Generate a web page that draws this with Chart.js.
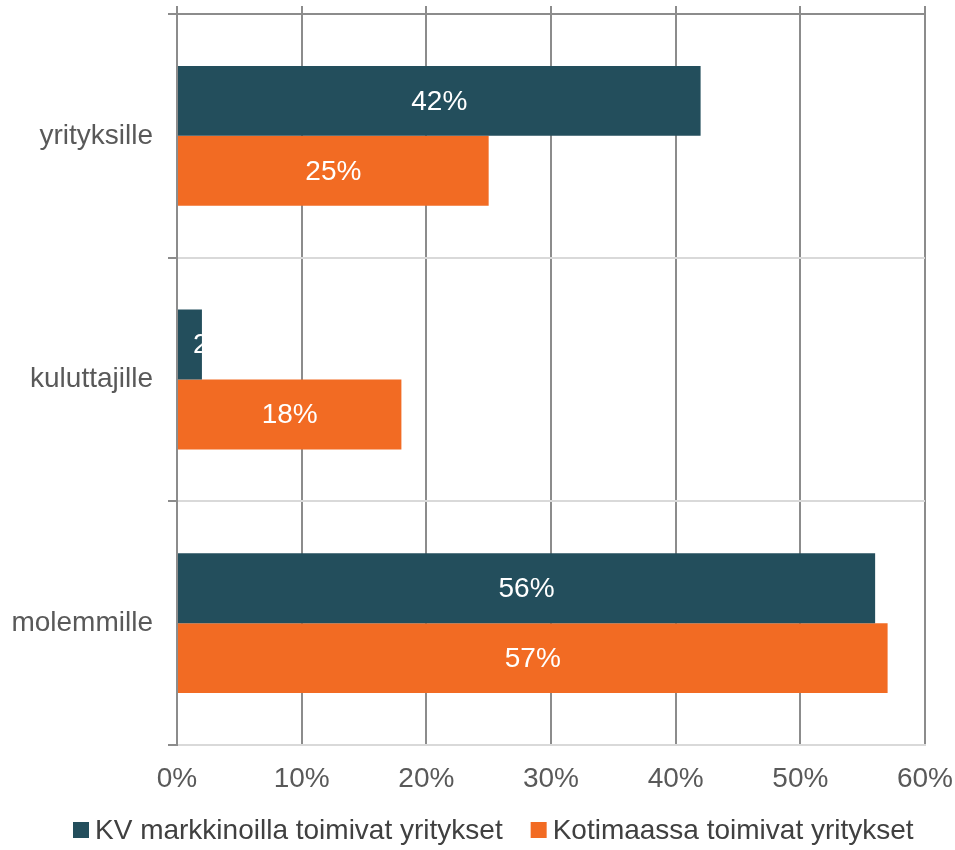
<!DOCTYPE html>
<html lang="fi">
<head>
    <meta charset="UTF-8">
    <title>Asiakkaat</title>
    <script src="https://cdn.jsdelivr.net/npm/chart.js"></script>
    <style>
        body {
            margin: 0;
            padding: 0;
            background: white;
        }
        canvas {
            display: block;
        }
    </style>
</head>
<body>
    <canvas id="chart" width="955" height="850"></canvas>

    <script>
        const categories = ["yrityksille", "kuluttajille", "molemmille"];
        const kvValues = [42, 2, 56];       // KV markkinoilla toimivat yritykset
        const kotimaaValues = [25, 18, 57]; // Kotimaassa toimivat yritykset
        const seriesNames = ["KV markkinoilla toimivat yritykset", "Kotimaassa toimivat yritykset"];
        const xTicks = [0, 10, 20, 30, 40, 50, 60];

        const FONT = "'Liberation Sans', Arial, sans-serif";
        const DARK_GRID = "#8c8c8c";
        const LIGHT_GRID = "#d9d9d9";

        // white value labels inside the bars; clipped to the bar if too narrow
        const barLabels = {
            id: "barLabels",
            afterDatasetsDraw(chart) {
                const ctx = chart.ctx;
                ctx.save();
                ctx.font = "28px " + FONT;
                ctx.fillStyle = "white";
                ctx.textBaseline = "middle";
                chart.data.datasets.forEach((ds, i) => {
                    chart.getDatasetMeta(i).data.forEach((bar, j) => {
                        const text = ds.data[j] + "%";
                        const w = ctx.measureText(text).width;
                        const left = Math.min(bar.base, bar.x);
                        const barW = Math.abs(bar.x - bar.base);
                        if (w + 6 < barW) {
                            ctx.textAlign = "center";
                            ctx.fillText(text, left + barW / 2, bar.y + 1);
                        } else {
                            ctx.save();
                            ctx.beginPath();
                            ctx.rect(left, bar.y - bar.height / 2, barW, bar.height);
                            ctx.clip();
                            ctx.textAlign = "left";
                            ctx.fillText(text, left + 15, bar.y + 1);
                            ctx.restore();
                        }
                    });
                });
                ctx.restore();
            }
        };

        // legend drawn like the original: small square, short gap, text
        const bottomLegend = {
            id: "bottomLegend",
            afterDraw(chart) {
                const ctx = chart.ctx;
                ctx.save();
                ctx.font = "28px " + FONT;
                ctx.textBaseline = "middle";
                ctx.textAlign = "left";
                let x = 73;
                const y = 830;
                chart.data.datasets.forEach((ds) => {
                    ctx.fillStyle = ds.backgroundColor;
                    ctx.fillRect(x, y - 8, 16, 16);
                    ctx.fillStyle = "#404040";
                    ctx.fillText(ds.label, x + 22, y + 1);
                    x += 22 + ctx.measureText(ds.label).width + 28;
                });
                ctx.restore();
            }
        };

        const ctx = document.getElementById("chart").getContext("2d");

        new Chart(ctx, {
            type: "bar",
            data: {
                labels: categories,
                datasets: [
                    {
                        label: seriesNames[0],
                        data: kvValues,
                        backgroundColor: "#234E5C",
                        categoryPercentage: 0.574,
                        barPercentage: 1
                    },
                    {
                        label: seriesNames[1],
                        data: kotimaaValues,
                        backgroundColor: "#F26B23",
                        categoryPercentage: 0.574,
                        barPercentage: 1
                    }
                ]
            },
            options: {
                indexAxis: "y",
                responsive: false,
                animation: false,
                layout: {
                    padding: { top: 6, right: 30, bottom: 40, left: 0 }
                },
                scales: {
                    x: {
                        position: "bottom",
                        min: 0,
                        max: 60,
                        afterBuildTicks: (axis) => { axis.ticks = xTicks.map(v => ({ value: v })); },
                        afterFit: (axis) => {
                            axis.height = 65;
                            axis.paddingLeft = 0;
                            axis.paddingRight = 0;
                        },
                        ticks: {
                            color: "#595959",
                            font: { family: FONT, size: 28 },
                            padding: 17,
                            callback: (v) => v + "%"
                        },
                        grid: {
                            color: DARK_GRID,
                            lineWidth: 2,
                            drawTicks: false
                        },
                        border: { color: LIGHT_GRID, width: 2 }
                    },
                    x2: {
                        position: "top",
                        min: 0,
                        max: 60,
                        afterBuildTicks: (axis) => { axis.ticks = xTicks.map(v => ({ value: v })); },
                        afterFit: (axis) => {
                            axis.height = 8;
                            axis.paddingLeft = 0;
                            axis.paddingRight = 0;
                        },
                        ticks: { display: false },
                        grid: {
                            drawOnChartArea: false,
                            tickLength: 8,
                            tickColor: DARK_GRID,
                            lineWidth: 2
                        },
                        border: { display: false }
                    },
                    y: {
                        afterFit: (axis) => {
                            axis.width = 177;
                            axis.paddingTop = 0;
                            axis.paddingBottom = 0;
                        },
                        ticks: {
                            color: "#595959",
                            font: { family: FONT, size: 28 },
                            padding: 15
                        },
                        grid: {
                            color: (c) => c.index === 0 ? DARK_GRID : LIGHT_GRID,
                            tickColor: DARK_GRID,
                            tickLength: 9,
                            lineWidth: 2
                        },
                        border: { color: DARK_GRID, width: 2 }
                    }
                },
                plugins: {
                    legend: { display: false },
                    tooltip: { enabled: false }
                }
            },
            plugins: [barLabels, bottomLegend]
        });
    </script>
</body>
</html>
